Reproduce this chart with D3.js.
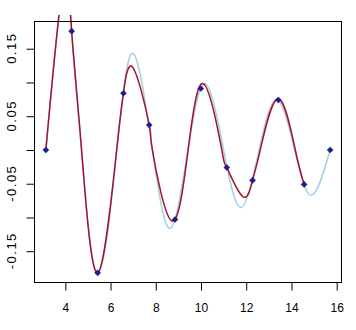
<!DOCTYPE html>
<html>
<head>
<meta charset="utf-8">
<script src="https://cdn.jsdelivr.net/npm/d3@7"></script>
<style>
  body { margin: 0; background: #fff; }
  text { font-family: "Liberation Sans", Arial, sans-serif; fill: #000; }
</style>
</head>
<body>
<svg id="chart"></svg>
<script>
// sample points
const xPts = [3.14, 4.28, 5.43, 6.57, 7.71, 8.85, 9.99, 11.14, 12.28, 13.42, 14.56, 15.71];
const yPts = [0, 0.176, -0.182, 0.084, 0.037, -0.103, 0.091, -0.026, -0.045, 0.074, -0.051, 0];

// light blue curve: zero crossings / extremes
const blueX = [3.14, 3.92, 4.28, 4.71, 5.43, 6.28, 7.0, 7.85, 8.64, 9.42, 10.18, 11.0, 11.77, 12.57, 13.35, 14.14, 14.88, 15.71];
const blueY = [0, 0.25, 0.176, 0, -0.182, 0, 0.143, 0, -0.116, 0, 0.098, 0, -0.085, 0, 0.075, 0, -0.067, 0];

// red curve, stops at the 11th point
const redX = [3.14, 3.92, 4.28, 4.72, 5.43, 6.27, 6.57, 6.99, 7.71, 7.85, 8.7, 9.43, 10.12, 10.92, 11.14, 11.85, 12.28, 12.62, 13.41, 14.17, 14.56];
const redY = [0, 0.25, 0.176, 0, -0.182, 0, 0.084, 0.122, 0.037, 0, -0.105, 0, 0.098, 0, -0.026, -0.069, -0.045, 0, 0.076, 0, -0.051];

const xTicks = [4, 6, 8, 10, 12, 14, 16];
const yTicks = [-0.15, -0.1, -0.05, 0, 0.05, 0.1, 0.15];
const yLabels = ["-0.15", "", "-0.05", "", "0.05", "", "0.15"];

const width = 356, height = 330;
const box = { left: 34.5, right: 341.5, top: 21.5, bottom: 282.5 };

const svg = d3.select("#chart").attr("width", width).attr("height", height);

// R style 4% extension of the data range
const extend = ([a, b]) => [a - 0.04 * (b - a), b + 0.04 * (b - a)];

const x = d3.scaleLinear().domain(extend(d3.extent(xPts))).range([box.left, box.right]);
const y = d3.scaleLinear().domain(extend(d3.extent(yPts))).range([box.bottom, box.top]);

svg.append("clipPath").attr("id", "clip")
  .append("rect").attr("x", box.left).attr("y", 15)
  .attr("width", box.right - box.left).attr("height", box.bottom - 15);

const line = d3.line().x(d => x(d[0])).y(d => y(d[1])).curve(d3.curveNatural);

const plot = svg.append("g").attr("clip-path", "url(#clip)");

plot.append("path")
  .datum(d3.zip(blueX, blueY))
  .attr("d", line)
  .attr("fill", "none")
  .attr("stroke", "#a3d2e8")
  .attr("stroke-width", 1.6);

plot.append("path")
  .datum(d3.zip(redX, redY))
  .attr("d", line)
  .attr("fill", "none")
  .attr("stroke", "#a8102c")
  .attr("stroke-width", 1.5);

const diamond = d3.symbol().type(d3.symbolSquare).size(22);
svg.append("g").selectAll("path")
  .data(d3.zip(xPts, yPts))
  .join("path")
  .attr("d", diamond)
  .attr("transform", d => `translate(${x(d[0])},${y(d[1])}) rotate(45)`)
  .attr("fill", "#1e1e8c");

// box
svg.append("rect")
  .attr("x", box.left).attr("y", box.top)
  .attr("width", box.right - box.left).attr("height", box.bottom - box.top)
  .attr("fill", "none").attr("stroke", "#000").attr("stroke-width", 1);

// x axis
svg.append("g")
  .attr("transform", `translate(0,${box.bottom})`)
  .call(d3.axisBottom(x).tickValues(xTicks).tickSize(8).tickFormat(d3.format("d")))
  .call(g => g.select(".domain").remove())
  .call(g => g.selectAll("line").attr("stroke", "#000"))
  .call(g => g.selectAll("text")
    .attr("y", 29).attr("dy", null)
    .style("font-size", "12px"));

// y axis
svg.append("g")
  .attr("transform", `translate(${box.left},0)`)
  .call(d3.axisLeft(y).tickValues(yTicks).tickSize(8).tickFormat((d, i) => yLabels[i]))
  .call(g => g.select(".domain").remove())
  .call(g => g.selectAll("line").attr("stroke", "#000"))
  .call(g => g.selectAll("text")
    .attr("x", null).attr("dy", null)
    .attr("text-anchor", "middle")
    .attr("transform", "translate(-18.5,-1) rotate(-90)")
    .style("font-size", "13px")
    .style("letter-spacing", "1.5px"));
</script>
</body>
</html>
